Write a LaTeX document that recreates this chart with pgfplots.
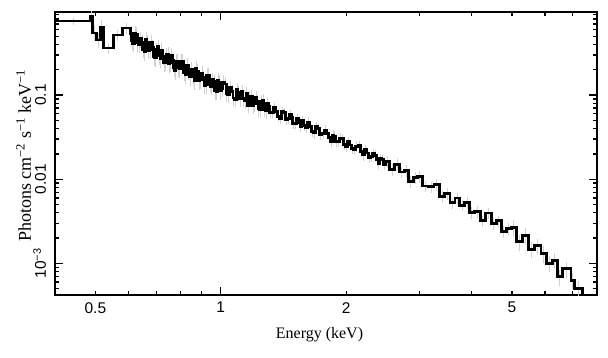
\documentclass[border=0pt]{standalone}
\usepackage{pgfplots}
\pgfplotsset{compat=1.18}
\usepackage{pgfplotstable}
\usepackage{fontspec}
\setmainfont{Liberation Serif}
\newfontfamily\hel{Liberation Sans}
\pgfplotstableread{
lo hi y e
0.400 0.486 0.76 0.10
0.486 0.493 0.87 0.15
0.493 0.503 0.547 0.2
0.503 0.514 0.452 0.2
0.514 0.523 0.645 0.2
0.523 0.552 0.363 0.15
0.552 0.580 0.518 0.15
0.580 0.607 0.628 0.15
0.607 0.611 0.543 0.22
0.611 0.615 0.446 0.22
0.615 0.620 0.414 0.22
0.620 0.625 0.537 0.22
0.625 0.630 0.529 0.22
0.630 0.635 0.417 0.22
0.635 0.640 0.404 0.22
0.640 0.645 0.465 0.22
0.645 0.650 0.422 0.22
0.650 0.655 0.350 0.22
0.655 0.660 0.329 0.22
0.660 0.665 0.455 0.22
0.665 0.670 0.422 0.22
0.670 0.675 0.341 0.22
0.675 0.680 0.349 0.22
0.680 0.685 0.426 0.22
0.685 0.690 0.366 0.22
0.690 0.695 0.286 0.22
0.695 0.700 0.280 0.22
0.700 0.705 0.345 0.22
0.705 0.710 0.374 0.22
0.710 0.715 0.295 0.22
0.715 0.720 0.272 0.22
0.720 0.725 0.343 0.22
0.725 0.730 0.291 0.22
0.730 0.735 0.243 0.22
0.735 0.740 0.245 0.22
0.740 0.745 0.301 0.22
0.745 0.750 0.305 0.22
0.750 0.755 0.237 0.22
0.755 0.760 0.244 0.22
0.760 0.765 0.299 0.22
0.765 0.770 0.257 0.22
0.770 0.775 0.211 0.22
0.775 0.780 0.195 0.22
0.780 0.785 0.253 0.22
0.785 0.790 0.251 0.22
0.790 0.795 0.2115 0.22
0.795 0.801 0.205 0.22
0.801 0.807 0.253 0.22
0.807 0.814 0.249 0.22
0.814 0.821 0.186 0.22
0.821 0.828 0.176 0.22
0.828 0.835 0.225 0.22
0.835 0.842 0.192 0.22
0.842 0.849 0.165 0.22
0.849 0.856 0.200 0.22
0.856 0.863 0.170 0.22
0.863 0.870 0.148 0.22
0.870 0.877 0.208 0.22
0.877 0.884 0.190 0.22
0.884 0.891 0.149 0.22
0.891 0.898 0.151 0.22
0.898 0.905 0.181 0.22
0.905 0.912 0.160 0.22
0.912 0.919 0.131 0.22
0.919 0.926 0.133 0.22
0.926 0.933 0.173 0.22
0.933 0.940 0.171 0.22
0.940 0.947 0.135 0.22
0.947 0.954 0.128 0.22
0.954 0.961 0.1515 0.22
0.961 0.968 0.1435 0.22
0.968 0.975 0.113 0.22
0.975 0.982 0.111 0.22
0.982 0.989 0.148 0.22
0.989 0.996 0.1405 0.22
0.996 1.003 0.113 0.22
1.003 1.011 0.1185 0.2
1.011 1.020 0.1425 0.2
1.020 1.030 0.1353 0.2
1.030 1.040 0.1039 0.2
1.040 1.050 0.1011 0.2
1.050 1.060 0.1230 0.2
1.060 1.070 0.1093 0.2
1.070 1.080 0.0923 0.2
1.080 1.090 0.0897 0.2
1.090 1.100 0.1154 0.2
1.100 1.110 0.1075 0.2
1.110 1.120 0.0901 0.2
1.120 1.130 0.1112 0.2
1.130 1.140 0.0903 0.2
1.140 1.150 0.0859 0.2
1.150 1.160 0.1035 0.2
1.160 1.170 0.0761 0.2
1.170 1.180 0.0926 0.2
1.180 1.190 0.0957 0.2
1.190 1.200 0.0747 0.2
1.200 1.210 0.0789 0.2
1.210 1.220 0.0941 0.2
1.220 1.230 0.0834 0.2
1.230 1.240 0.0686 0.2
1.240 1.250 0.0676 0.2
1.250 1.260 0.0838 0.2
1.260 1.270 0.0868 0.2
1.270 1.280 0.0677 0.2
1.280 1.290 0.0648 0.2
1.290 1.300 0.0796 0.2
1.300 1.312 0.0732 0.14
1.312 1.325 0.0615 0.14
1.325 1.340 0.0621 0.14
1.340 1.355 0.0715 0.14
1.355 1.370 0.0633 0.14
1.370 1.385 0.0557 0.14
1.385 1.400 0.0532 0.14
1.400 1.415 0.0637 0.14
1.415 1.430 0.0617 0.14
1.430 1.445 0.0518 0.14
1.445 1.460 0.0525 0.14
1.460 1.475 0.0591 0.14
1.475 1.490 0.0544 0.14
1.490 1.505 0.0457 0.14
1.505 1.520 0.0454 0.14
1.520 1.535 0.0522 0.14
1.535 1.550 0.0477 0.14
1.550 1.565 0.0424 0.14
1.565 1.580 0.0500 0.14
1.580 1.595 0.0433 0.14
1.595 1.612 0.0409 0.14
1.612 1.630 0.0476 0.14
1.630 1.650 0.0424 0.14
1.650 1.670 0.0369 0.14
1.670 1.690 0.0354 0.14
1.690 1.710 0.0419 0.14
1.710 1.730 0.0400 0.14
1.730 1.750 0.0343 0.14
1.750 1.770 0.0346 0.14
1.770 1.790 0.0385 0.14
1.790 1.810 0.0349 0.14
1.810 1.830 0.0310 0.14
1.830 1.850 0.0283 0.14
1.850 1.870 0.0334 0.14
1.870 1.890 0.0325 0.14
1.890 1.910 0.0279 0.14
1.910 1.930 0.0279 0.14
1.930 1.950 0.0309 0.14
1.950 1.970 0.0302 0.14
1.970 1.990 0.0257 0.14
1.990 2.012 0.0247 0.14
2.012 2.035 0.0281 0.14
2.035 2.060 0.0255 0.14
2.060 2.085 0.0229 0.14
2.085 2.110 0.0224 0.14
2.110 2.135 0.0247 0.14
2.135 2.160 0.0249 0.14
2.160 2.185 0.0211 0.14
2.185 2.210 0.0194 0.14
2.210 2.235 0.0223 0.14
2.235 2.260 0.0205 0.14
2.260 2.285 0.0180 0.14
2.285 2.310 0.0184 0.14
2.310 2.335 0.0201 0.14
2.335 2.360 0.0193 0.14
2.360 2.385 0.0169 0.14
2.385 2.410 0.0152 0.14
2.410 2.435 0.0177 0.14
2.435 2.460 0.0171 0.14
2.460 2.485 0.0150 0.14
2.485 2.545 0.01625 0.16
2.545 2.615 0.0131 0.16
2.615 2.685 0.01511 0.16
2.685 2.755 0.01219 0.16
2.755 2.825 0.01281 0.16
2.825 2.895 0.00944 0.16
2.895 2.965 0.01057 0.16
2.965 3.050 0.01085 0.16
3.050 3.150 0.00831 0.16
3.150 3.250 0.00809 0.16
3.250 3.350 0.00864 0.16
3.350 3.450 0.00628 0.16
3.450 3.550 0.00674 0.16
3.550 3.650 0.00522 0.16
3.650 3.750 0.00597 0.16
3.750 3.850 0.00492 0.16
3.850 3.950 0.00533 0.16
3.950 4.065 0.00403 0.16
4.065 4.195 0.00416 0.16
4.195 4.325 0.00319 0.16
4.325 4.455 0.00397 0.16
4.455 4.585 0.00298 0.16
4.585 4.715 0.00319 0.16
4.715 4.845 0.00240 0.16
4.845 4.975 0.00260 0.16
4.975 5.130 0.00266 0.22
5.130 5.310 0.00180 0.22
5.310 5.490 0.00216 0.22
5.490 5.670 0.00147 0.22
5.670 5.870 0.00161 0.22
5.870 6.040 0.00130 0.22
6.040 6.260 0.00100 0.22
6.260 6.420 0.00109 0.22
6.420 6.600 0.00069 0.22
6.600 6.930 0.00086 0.22
6.930 7.060 0.00063 0.22
7.060 7.400 0.00050 0.22
7.400 7.410 0.00001 0
}\spec
\begin{document}
\begin{tikzpicture}
\begin{axis}[
  xmode=log, ymode=log,
  scale only axis, width=542pt, height=283.3pt,
  xmin=0.4, xmax=8, ymin=4.2e-4, ymax=0.98,
  axis line style={line width=2.1pt},
  tick style={line width=1.3pt, black},
  major tick length=8pt, minor tick length=4pt,
  xtick={1}, xticklabels={1},
  extra x ticks={0.5,2,5}, extra x tick labels={0.5,2,5},
  extra x tick style={major tick length=4pt},
  minor xtick={0.6,0.7,0.8,0.9,3,4,6,7},
  ytick={0.001,0.01,0.1}, yticklabels={10\textsuperscript{−3},0.01,0.1},
  minor ytick={5e-4,6e-4,7e-4,8e-4,9e-4,2e-3,3e-3,4e-3,5e-3,6e-3,7e-3,8e-3,9e-3,0.02,0.03,0.04,0.05,0.06,0.07,0.08,0.09,0.2,0.3,0.4,0.5,0.6,0.7,0.8,0.9},
  ticklabel style={font=\hel\fontsize{15.5}{17}\selectfont},
  xticklabel style={anchor=north, inner sep=0pt},
  xticklabel shift=7pt,
  yticklabel style={rotate=90, anchor=base, inner sep=0pt},
  yticklabel shift=9pt,
]
\addplot[draw=none, mark=none, forget plot,
  error bars/.cd, y dir=both, y explicit relative, error mark=none,
  error bar style={draw=black!18, line width=1pt}]
  table[x expr={(\thisrow{lo}+\thisrow{hi})/2}, y=y, y error=e]{\spec};
\addplot[const plot mark left, line width=2.9pt, black, mark=none] table[x=lo, y=y]{\spec};
\end{axis}
\coordinate (xl) at ([xshift=-6.5pt,yshift=-43.5pt]current axis.south);
\coordinate (yl) at ([xshift=-24pt,yshift=-2.2pt]current axis.west);
\node[anchor=base, font=\fontsize{16}{18}\selectfont, inner sep=0pt] at (xl) {Energy (keV)};
\node[rotate=90, anchor=base, font=\fontsize{18}{20}\selectfont, inner sep=0pt] at (yl) {Photons cm\textsuperscript{−2} s\textsuperscript{−1} keV\textsuperscript{−1}};
\path ([shift={(-55pt,-62pt)}]current axis.south west) rectangle ([shift={(11pt,11.7pt)}]current axis.north east);
\end{tikzpicture}
\end{document}
